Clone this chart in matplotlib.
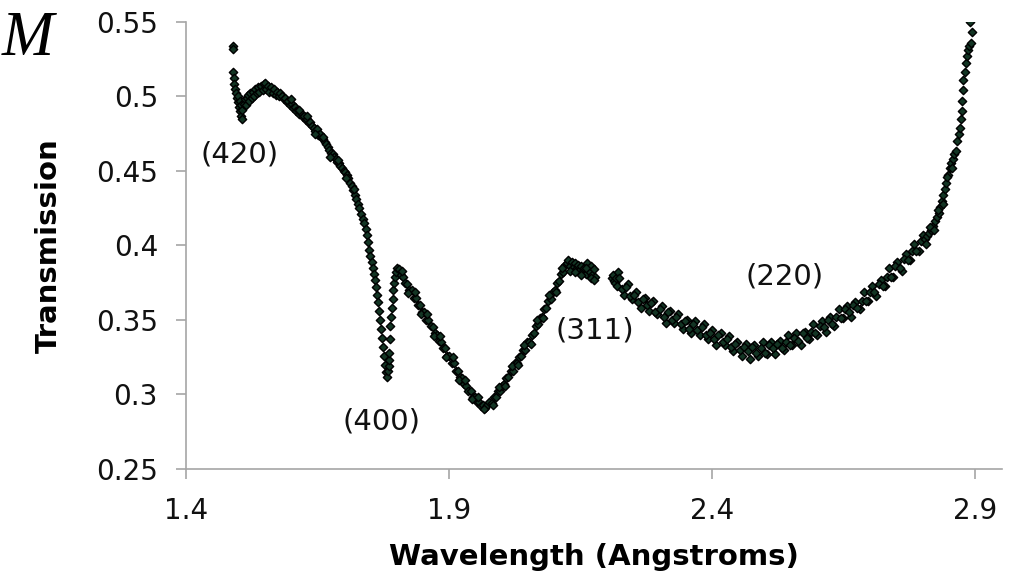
import matplotlib.pyplot as plt

# transmission vs wavelength
# (420) edge region
wl_a = [1.489, 1.489, 1.490, 1.491, 1.492, 1.493, 1.495, 1.497, 1.499, 1.501, 1.503, 1.505, 1.507,
        1.500, 1.503, 1.505, 1.507, 1.510, 1.512, 1.514, 1.516, 1.518, 1.520, 1.522, 1.525, 1.527, 1.530,
        1.532, 1.535, 1.538, 1.540, 1.543, 1.546, 1.549, 1.551, 1.553, 1.556,
        1.559, 1.562, 1.565, 1.568, 1.571, 1.574, 1.577, 1.580]
tr_a = [0.534, 0.532, 0.516, 0.512, 0.508, 0.505, 0.502, 0.499, 0.496, 0.493, 0.490, 0.487, 0.485,
        0.500, 0.497, 0.494, 0.491, 0.495, 0.498, 0.494, 0.499, 0.501, 0.497, 0.502, 0.499, 0.503, 0.500,
        0.505, 0.502, 0.506, 0.503, 0.507, 0.504, 0.508, 0.509, 0.505, 0.507,
        0.503, 0.506, 0.502, 0.505, 0.501, 0.503, 0.500, 0.502]

# fall into the (400) dip
wl_b = [1.583, 1.586, 1.589, 1.592, 1.595, 1.598, 1.601, 1.604, 1.607, 1.610,
        1.613, 1.616, 1.619, 1.622, 1.625, 1.628, 1.631, 1.634, 1.637, 1.640,
        1.643, 1.646, 1.649, 1.652, 1.655, 1.658, 1.661, 1.664, 1.667, 1.670,
        1.673, 1.676, 1.679, 1.682, 1.685, 1.688, 1.691, 1.694, 1.697, 1.700,
        1.703, 1.706, 1.709, 1.712, 1.715, 1.718, 1.721, 1.724, 1.727, 1.730,
        1.733, 1.736, 1.739, 1.742, 1.745, 1.747, 1.749, 1.751, 1.753, 1.755,
        1.757, 1.759, 1.761, 1.763, 1.765, 1.767, 1.769, 1.771, 1.773, 1.775,
        1.777, 1.779, 1.781, 1.783,
        1.600, 1.615, 1.630, 1.645, 1.660, 1.675, 1.690, 1.705, 1.720]
tr_b = [0.500, 0.498, 0.499, 0.496, 0.497, 0.494, 0.495, 0.492, 0.493, 0.490,
        0.491, 0.488, 0.489, 0.486, 0.487, 0.484, 0.485, 0.482, 0.483, 0.480,
        0.479, 0.477, 0.478, 0.474, 0.475, 0.472, 0.471, 0.469, 0.468, 0.466,
        0.464, 0.462, 0.461, 0.459, 0.458, 0.456, 0.455, 0.453, 0.452, 0.450,
        0.449, 0.447, 0.445, 0.442, 0.440, 0.437, 0.434, 0.431, 0.428, 0.425,
        0.421, 0.418, 0.415, 0.411, 0.407, 0.402, 0.397, 0.393, 0.389, 0.385,
        0.381, 0.377, 0.372, 0.367, 0.362, 0.356, 0.350, 0.344, 0.338, 0.332,
        0.326, 0.320, 0.315, 0.312,
        0.498, 0.491, 0.487, 0.475, 0.473, 0.459, 0.457, 0.445, 0.438]

# climb out of the (400) dip
wl_c = [1.785, 1.786, 1.787, 1.787, 1.789, 1.789, 1.790, 1.791, 1.793, 1.793, 1.795, 1.797, 1.800, 1.802]
tr_c = [0.316, 0.319, 0.323, 0.328, 0.337, 0.346, 0.352, 0.358, 0.364, 0.370, 0.375, 0.379, 0.382, 0.385]

# broad minimum and rise to the (311) edge
wl_d = [1.805, 1.809, 1.813, 1.817, 1.821, 1.825, 1.829, 1.833, 1.837, 1.841,
        1.845, 1.849, 1.853, 1.857, 1.861, 1.865, 1.869, 1.873, 1.877, 1.881,
        1.885, 1.889, 1.893, 1.897, 1.901, 1.905, 1.909, 1.913, 1.917, 1.921,
        1.925, 1.929, 1.933, 1.937, 1.941, 1.945, 1.949, 1.953, 1.957, 1.961,
        1.965, 1.969, 1.973,
        1.811, 1.823, 1.835, 1.847, 1.859, 1.871, 1.883, 1.895, 1.907, 1.919,
        1.931, 1.943, 1.955, 1.967,
        1.977, 1.981, 1.985, 1.989, 1.993, 1.997, 2.001, 2.005, 2.009, 2.013,
        2.017, 2.021, 2.025, 2.029, 2.033, 2.037, 2.041, 2.045, 2.049, 2.053,
        2.057, 2.061, 2.065, 2.069, 2.073, 2.077, 2.081, 2.085, 2.089, 2.093,
        2.097, 2.101, 2.105, 2.109, 2.113, 2.117, 2.121,
        1.983, 1.995, 2.007, 2.019, 2.031, 2.043, 2.055, 2.067, 2.079, 2.091,
        2.103, 2.115,
        2.124, 2.127, 2.130, 2.133, 2.136, 2.139, 2.142, 2.145, 2.148, 2.151,
        2.154, 2.157, 2.160, 2.163, 2.166, 2.169, 2.172, 2.175, 2.178,
        2.130, 2.140, 2.150, 2.160, 2.170, 2.176]
tr_d = [0.384, 0.380, 0.379, 0.375, 0.374, 0.370, 0.370, 0.365, 0.365, 0.360,
        0.360, 0.355, 0.355, 0.350, 0.350, 0.346, 0.345, 0.341, 0.340, 0.336,
        0.335, 0.331, 0.331, 0.326, 0.326, 0.321, 0.321, 0.316, 0.316, 0.312,
        0.311, 0.307, 0.306, 0.302, 0.302, 0.298, 0.298, 0.295, 0.295, 0.292,
        0.293, 0.291, 0.293,
        0.383, 0.368, 0.369, 0.354, 0.354, 0.339, 0.339, 0.325, 0.325, 0.310,
        0.310, 0.297, 0.298, 0.290,
        0.295, 0.294, 0.298, 0.298, 0.302, 0.302, 0.306, 0.307, 0.311, 0.312,
        0.316, 0.316, 0.321, 0.321, 0.325, 0.326, 0.330, 0.330, 0.335, 0.335,
        0.340, 0.341, 0.346, 0.347, 0.351, 0.352, 0.357, 0.358, 0.363, 0.364,
        0.369, 0.370, 0.375, 0.376, 0.381, 0.382, 0.387,
        0.293, 0.305, 0.306, 0.319, 0.320, 0.333, 0.334, 0.350, 0.351, 0.367,
        0.369, 0.385,
        0.388, 0.390, 0.386, 0.389, 0.385, 0.388, 0.384, 0.387, 0.383, 0.386,
        0.383, 0.385, 0.381, 0.388, 0.383, 0.386, 0.380, 0.384, 0.379,
        0.383, 0.382, 0.380, 0.385, 0.378, 0.377]

# long (220) segment after the gap
wl_e = [2.209, 2.212, 2.214, 2.216, 2.218, 2.220, 2.222,
        2.224, 2.232, 2.240, 2.248, 2.256, 2.264, 2.272, 2.280, 2.288, 2.296,
        2.304, 2.312, 2.320, 2.328, 2.336, 2.344, 2.352, 2.360, 2.368, 2.376,
        2.384, 2.392, 2.400, 2.408, 2.416, 2.424, 2.432, 2.440, 2.448, 2.456,
        2.464, 2.472, 2.480, 2.488, 2.496, 2.504, 2.512, 2.520, 2.528, 2.536,
        2.544, 2.552, 2.560, 2.568, 2.576, 2.584, 2.592, 2.600, 2.608, 2.616,
        2.624, 2.632, 2.640, 2.648, 2.656, 2.664, 2.672, 2.680, 2.688, 2.696,
        2.704, 2.712, 2.720, 2.728, 2.736, 2.744, 2.752, 2.760, 2.768, 2.776,
        2.784, 2.792, 2.800,
        2.228, 2.236, 2.244, 2.252, 2.260, 2.268, 2.276, 2.284, 2.292, 2.300,
        2.308, 2.316, 2.324, 2.332, 2.340, 2.348, 2.356, 2.364, 2.372, 2.380,
        2.388, 2.396, 2.404, 2.412, 2.420, 2.428, 2.436, 2.444, 2.452, 2.460,
        2.468, 2.476, 2.484, 2.492, 2.500, 2.508, 2.516, 2.524, 2.532, 2.540,
        2.548, 2.556, 2.564, 2.572, 2.580, 2.588, 2.596, 2.604, 2.612, 2.620,
        2.628, 2.636, 2.644, 2.652, 2.660, 2.668, 2.676, 2.684, 2.692, 2.700,
        2.708, 2.716, 2.724, 2.732, 2.740, 2.748, 2.756, 2.764, 2.772, 2.780,
        2.788, 2.796]
tr_e = [0.378, 0.380, 0.376, 0.375, 0.378, 0.373, 0.382,
        0.378, 0.367, 0.374, 0.364, 0.369, 0.358, 0.365, 0.356, 0.363, 0.354,
        0.359, 0.348, 0.356, 0.348, 0.354, 0.344, 0.350, 0.341, 0.349, 0.340,
        0.347, 0.337, 0.343, 0.333, 0.341, 0.333, 0.339, 0.329, 0.335, 0.326,
        0.334, 0.324, 0.333, 0.326, 0.335, 0.327, 0.335, 0.327, 0.336, 0.330,
        0.340, 0.333, 0.341, 0.333, 0.342, 0.337, 0.347, 0.340, 0.349, 0.342,
        0.352, 0.346, 0.357, 0.351, 0.359, 0.352, 0.362, 0.357, 0.369, 0.363,
        0.373, 0.366, 0.377, 0.373, 0.385, 0.379, 0.389, 0.383, 0.394, 0.390,
        0.401, 0.396, 0.407,
        0.371, 0.372, 0.366, 0.367, 0.362, 0.364, 0.360, 0.361, 0.355, 0.357,
        0.352, 0.355, 0.350, 0.352, 0.347, 0.349, 0.344, 0.347, 0.343, 0.345,
        0.340, 0.341, 0.337, 0.340, 0.335, 0.337, 0.332, 0.334, 0.330, 0.332,
        0.329, 0.332, 0.328, 0.331, 0.328, 0.333, 0.331, 0.334, 0.331, 0.335,
        0.333, 0.338, 0.336, 0.341, 0.338, 0.342, 0.341, 0.346, 0.345, 0.350,
        0.347, 0.352, 0.351, 0.357, 0.355, 0.360, 0.358, 0.363, 0.363, 0.369,
        0.369, 0.374, 0.373, 0.379, 0.379, 0.386, 0.385, 0.391, 0.390, 0.396,
        0.396, 0.403]

# steep rise at the long-wavelength end
wl_f = [2.804, 2.808, 2.812, 2.816, 2.820, 2.824, 2.827, 2.830, 2.833, 2.836,
        2.839, 2.842, 2.845, 2.848, 2.851, 2.854, 2.857, 2.860, 2.863, 2.866,
        2.868, 2.870, 2.872, 2.874, 2.875, 2.876, 2.877, 2.880, 2.882, 2.884,
        2.886, 2.888, 2.891, 2.894, 2.890,
        2.806, 2.814, 2.822, 2.829, 2.838, 2.846, 2.856]
tr_f = [0.404, 0.406, 0.408, 0.410, 0.413, 0.416, 0.419, 0.422, 0.426, 0.430,
        0.434, 0.438, 0.442, 0.447, 0.452, 0.455, 0.458, 0.461, 0.463, 0.470,
        0.475, 0.479, 0.485, 0.490, 0.497, 0.504, 0.511, 0.516, 0.522, 0.527,
        0.531, 0.534, 0.536, 0.543, 0.550,
        0.401, 0.412, 0.410, 0.424, 0.428, 0.446, 0.452]

peaks = ["(420)", "(400)", "(311)", "(220)"]
peak_x = [1.503, 1.771, 2.177, 2.538]
peak_y = [0.461, 0.282, 0.343, 0.379]

xticks = [1.4, 1.9, 2.4, 2.9]
yticks = [0.25, 0.3, 0.35, 0.4, 0.45, 0.5, 0.55]

wl = wl_a + wl_b + wl_c + wl_d + wl_e + wl_f
tr = tr_a + tr_b + tr_c + tr_d + tr_e + tr_f

fig = plt.figure(figsize=(10.13, 5.82), dpi=100)
ax = fig.add_axes([185.7 / 1013, 1 - 469 / 582, (1001.7 - 185.7) / 1013, (469 - 21.7) / 582])

ax.scatter(wl, tr, marker='D', s=18, facecolor='#133524', edgecolor='black', linewidths=1.0, zorder=3)

for lab, x, y in zip(peaks, peak_x, peak_y):
    ax.text(x, y, lab, fontsize=21, ha='center', va='center', color='#111111')

ax.set_xlim(1.4, 2.95)
ax.set_ylim(0.25, 0.55)
ax.set_xticks(xticks)
ax.set_xticklabels([f"{v:g}" for v in xticks])
ax.set_yticks(yticks)
ax.set_yticklabels([f"{v:g}" for v in yticks])

for side in ['top', 'right']:
    ax.spines[side].set_visible(False)
for side in ['left', 'bottom']:
    ax.spines[side].set_color('#a6a6a6')
    ax.spines[side].set_linewidth(1.2)
ax.tick_params(axis='both', length=7, width=1.2, color='#a6a6a6', pad=13, labelsize=20, labelcolor='#111111')

ax.set_xlabel("Wavelength (Angstroms)", fontsize=21, fontweight='bold', labelpad=13)
ax.set_ylabel("Transmission", fontsize=21, fontweight='bold', labelpad=24)

fig.text(0.002, 1 - 55 / 582, "M", fontsize=45, family='Liberation Serif', style='italic', va='baseline', ha='left')

fig.savefig("out.png", dpi=100)
